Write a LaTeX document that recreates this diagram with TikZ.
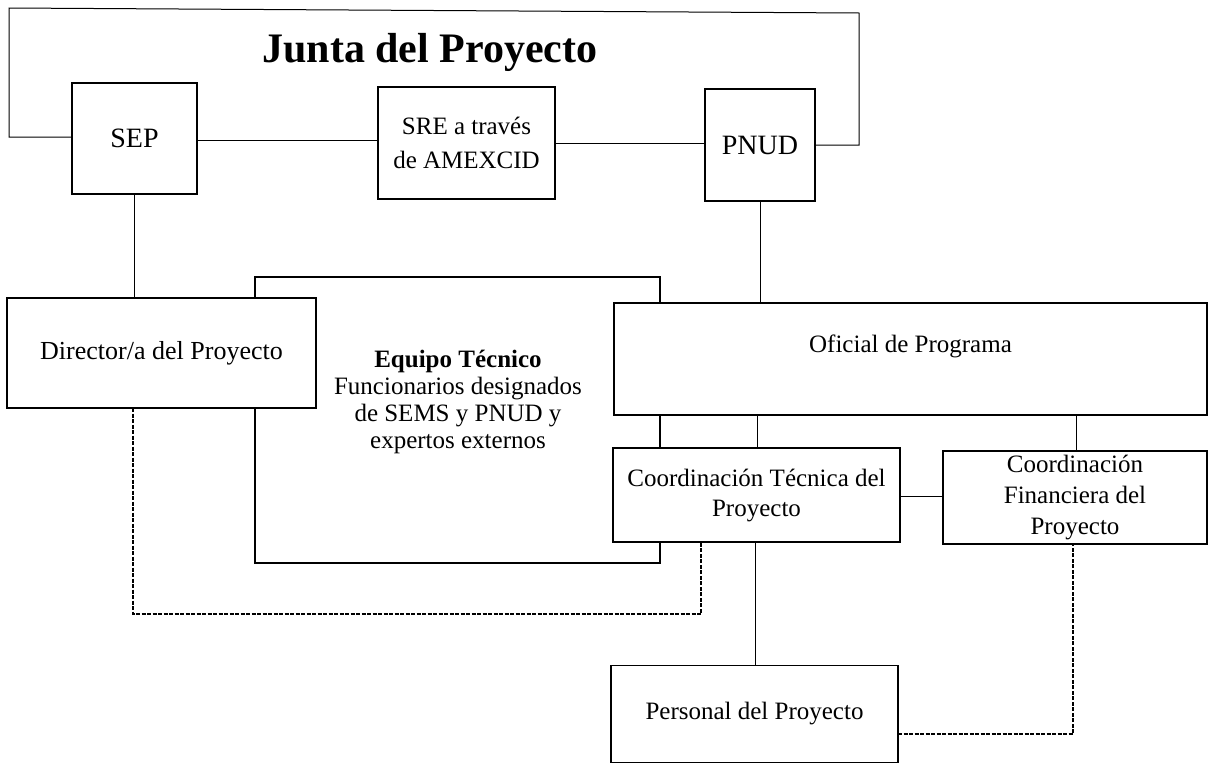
\documentclass[tikz,border=0pt]{standalone}
\usepackage{fontspec}
\setmainfont{Liberation Serif}
\begin{document}
\begin{tikzpicture}[x=1pt,y=-1pt,
  box/.style={draw, fill=white, line width=1.2pt, inner sep=0pt, outer sep=0pt, align=center, font=\fontsize{25}{31}\selectfont},
  link/.style={line width=1pt},
  dlink/.style={line width=1.2pt, dash pattern=on 4pt off 1.5pt}]
\useasboundingbox (0,0) rectangle (1209,766);
% Equipo tecnico frame (drawn first, partly hidden)
\node[box, minimum width=405, minimum height=286] (equipo) at (457.5,420) {};
\node[font=\fontsize{25}{27}\selectfont, align=center] (eqtxt) at (458,402) {\textbf{Equipo Técnico}\\Funcionarios designados\\de SEMS y PNUD y\\expertos externos};
% boxes
\node[box, minimum width=125, minimum height=111, font=\fontsize{28}{34}\selectfont] (sep) at (134.5,138.5) {SEP};
\node[box, minimum width=177, minimum height=112, font=\fontsize{25}{34}\selectfont] (sre) at (466.5,143) {SRE a través\\de AMEXCID};
\node[box, minimum width=110, minimum height=112, font=\fontsize{28}{34}\selectfont] (pnud) at (760,145) {PNUD};
\node[box, minimum width=309, minimum height=110, font=\fontsize{26}{31}\selectfont] (dir) at (161.5,353) {Director/a del Proyecto};
\node[box, minimum width=593, minimum height=112, text depth=30pt] (ofi) at (910.5,359) {Oficial de Programa};
\node[box, minimum width=287, minimum height=94, font=\fontsize{25}{30}\selectfont] (ct) at (756.5,495) {Coordinación Técnica del\\Proyecto};
\node[box, minimum width=264, minimum height=93] (cf) at (1075,497.5) {Coordinación\\Financiera del\\Proyecto};
\node[box, minimum width=287, minimum height=97] (pers) at (754.5,714) {Personal del Proyecto};
% title
\node[font=\fontsize{42}{50}\selectfont\bfseries] (title) at (430,52) {Junta del Proyecto};
% connectors
\draw[link] (sep.west |- 0,137) -- (9,137) -- (9,8) -- (859,13) -- (859,145) -- (pnud.east |- 0,145);
\draw[link] (sep.east |- 0,140) -- (sre.west |- 0,140);
\draw[link] (sre.east |- 0,143.5) -- (pnud.west |- 0,143.5);
\draw[link] (sep.south -| 134,0) -- (dir.north -| 134,0);
\draw[link] (pnud.south) -- (ofi.north -| pnud.south);
\draw[link] (ofi.south -| 757,0) -- (ct.north -| 757,0);
\draw[link] (ofi.south -| 1076,0) -- (cf.north -| 1076,0);
\draw[link] (ct.east |- 0,496) -- (cf.west |- 0,496);
\draw[link] (ct.south -| 755.5,0) -- (pers.north -| 755.5,0);
\draw[dlink] (dir.south -| 133,0) -- (133,614) -- (701,614) -- (ct.south -| 701,0);
\draw[dlink] (pers.east |- 0,734) -- (1073,734) -- (cf.south -| 1073,0);
\end{tikzpicture}
\end{document}
